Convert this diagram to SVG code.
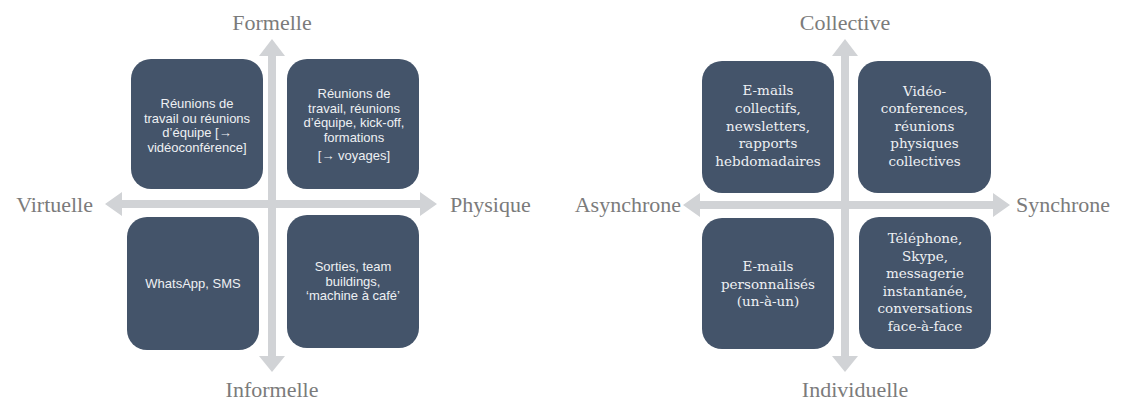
<svg xmlns="http://www.w3.org/2000/svg" width="1122" height="401" viewBox="0 0 1122 401">
<style>
.axis{fill:#d1d3d6}
.box{fill:#44546a}
.lbl{font-family:"Liberation Serif",serif;font-size:22px;fill:#7b7b7b}
.ts{font-family:"Liberation Sans",sans-serif;font-size:13px;fill:#eef0f3;text-anchor:middle}
.tr{font-family:"DejaVu Serif",serif;font-size:13.5px;fill:#eef0f3;text-anchor:middle}
</style>
<rect width="1122" height="401" fill="#ffffff"/>
<g id="connectors">
  <polygon class="axis" points="272,39 285,56 276,56 276,356 285,356 272,372 259,356 268,356 268,56 259,56"/>
  <polygon class="axis" points="105,204 122,192 122,200 420,200 420,192 437,204 420,216 420,208 122,208 122,216"/>
  <polygon class="axis" points="845,39 858,56 849,56 849,356 858,356 845,372 832,356 841,356 841,56 832,56"/>
  <polygon class="axis" points="683,205 700,193 700,201 993,201 993,193 1010,205 993,217 993,209 700,209 700,217"/>
</g>
<g id="labels-left">
  <text class="lbl" x="272" y="30" text-anchor="middle">Formelle</text>
  <text class="lbl" x="272" y="397" text-anchor="middle">Informelle</text>
  <text class="lbl" x="93" y="212" text-anchor="end">Virtuelle</text>
  <text class="lbl" x="450" y="212">Physique</text>
</g>
<g id="labels-right">
  <text class="lbl" x="845" y="30" text-anchor="middle">Collective</text>
  <text class="lbl" x="855" y="397" text-anchor="middle">Individuelle</text>
  <text class="lbl" x="681" y="212" text-anchor="end">Asynchrone</text>
  <text class="lbl" x="1016" y="212">Synchrone</text>
</g>
<g id="node-virt-formelle">
  <rect class="box" x="131" y="59" width="132" height="130" rx="20"/>
  <text class="ts" x="197" y="108">Réunions de</text>
  <text class="ts" x="197" y="122.5">travail ou réunions</text>
  <text class="ts" x="197" y="137">d’équipe [→</text>
  <text class="ts" x="197" y="151.5">vidéoconférence]</text>
</g>
<g id="node-phys-formelle">
  <rect class="box" x="287" y="59" width="132" height="130" rx="20"/>
  <text class="ts" x="354" y="98">Réunions de</text>
  <text class="ts" x="354" y="112.5">travail, réunions</text>
  <text class="ts" x="354" y="127">d’équipe, kick-off,</text>
  <text class="ts" x="354" y="141.5">formations</text>
  <text class="ts" x="354" y="160">[→ voyages]</text>
</g>
<g id="node-virt-informelle">
  <rect class="box" x="127" y="217" width="132" height="133" rx="20"/>
  <text class="ts" x="193" y="288">WhatsApp, SMS</text>
</g>
<g id="node-phys-informelle">
  <rect class="box" x="287" y="215" width="132" height="133" rx="20"/>
  <text class="ts" x="353" y="271">Sorties, team</text>
  <text class="ts" x="353" y="285.5">buildings,</text>
  <text class="ts" x="353" y="300">‘machine à café’</text>
</g>
<g id="node-async-collective">
  <rect class="box" x="702" y="61" width="132" height="132" rx="20"/>
  <text class="tr" x="768" y="95">E-mails</text>
  <text class="tr" x="768" y="113">collectifs,</text>
  <text class="tr" x="768" y="130.5">newsletters,</text>
  <text class="tr" x="768" y="148">rapports</text>
  <text class="tr" x="768" y="166">hebdomadaires</text>
</g>
<g id="node-sync-collective">
  <rect class="box" x="858" y="61" width="133" height="132" rx="20"/>
  <text class="tr" x="924.5" y="95.5">Vidéo-</text>
  <text class="tr" x="924.5" y="113">conferences,</text>
  <text class="tr" x="924.5" y="130.5">réunions</text>
  <text class="tr" x="924.5" y="148">physiques</text>
  <text class="tr" x="924.5" y="166">collectives</text>
</g>
<g id="node-async-individuelle">
  <rect class="box" x="702" y="218" width="132" height="131" rx="20"/>
  <text class="tr" x="768" y="271">E-mails</text>
  <text class="tr" x="768" y="288.5">personnalisés</text>
  <text class="tr" x="768" y="306">(un-à-un)</text>
</g>
<g id="node-sync-individuelle">
  <rect class="box" x="859" y="217" width="132" height="132" rx="20"/>
  <text class="tr" x="925" y="243">Téléphone,</text>
  <text class="tr" x="925" y="260.5">Skype,</text>
  <text class="tr" x="925" y="278">messagerie</text>
  <text class="tr" x="925" y="295.5">instantanée,</text>
  <text class="tr" x="925" y="313">conversations</text>
  <text class="tr" x="925" y="330.5">face-à-face</text>
</g>
</svg>
